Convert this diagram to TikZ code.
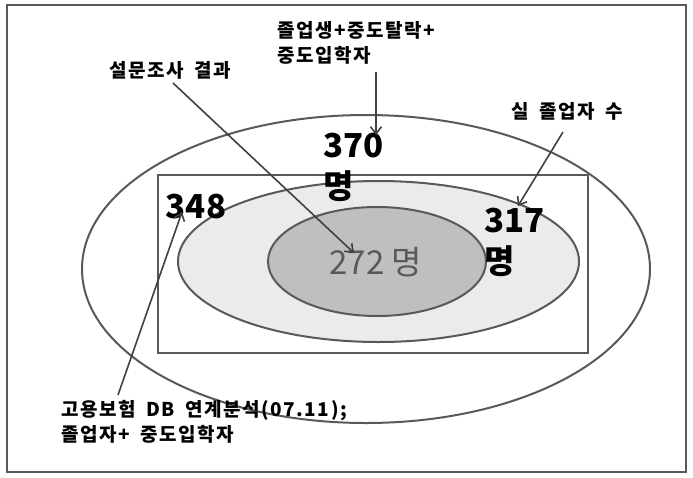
\documentclass[tikz,border=0pt]{standalone}
\usepackage{fontspec}
\newfontfamily\kr{Noto Sans CJK KR}
\newfontfamily\krw{Noto Sans CJK KR}[LetterSpace=8,WordSpace=1.8]
\usetikzlibrary{shapes.geometric,arrows.meta}
\definecolor{linegray}{HTML}{595959}
\definecolor{arrowgray}{HTML}{404040}
\definecolor{midfill}{HTML}{EBEBEB}
\definecolor{innerfill}{HTML}{BFBFBF}
\definecolor{numgray}{HTML}{595959}
\begin{document}
\begin{tikzpicture}[x=1pt,y=-1pt,
  lbl/.style={font=\krw\bfseries\fontsize{19}{25}\selectfont, inner sep=0pt, align=left, text=black},
  num/.style={font=\kr\bfseries\fontsize{33}{41}\selectfont, inner sep=0pt, align=left, text=black},
  ell/.style={ellipse, draw=linegray, line width=2pt, inner sep=0pt},
  arr/.style={draw=arrowgray, line width=1.6pt, -{Straight Barb[length=7pt,width=11pt,line width=1.6pt]}}
]
\useasboundingbox (0,0) rectangle (693,477);
\draw[draw=linegray, line width=2.2pt] (7,5) rectangle (686,472);

\node[ell, minimum width=568pt, minimum height=308pt] (outer) at (366,269) {};
\node[draw=linegray, line width=2.4pt, inner sep=0pt, minimum width=430pt, minimum height=178pt] (box) at (373,264) {};
\node[ell, fill=midfill, minimum width=401pt, minimum height=161pt] (mid) at (378.5,261.5) {};

\node[num, anchor=north west] (n370) at (323,133) {370\\명};
\node[ell, fill=innerfill, minimum width=218pt, minimum height=109pt] (inner) at (377,261.5) {};

\node[num] (n348) at (196,206.5) {348};
\node[num, anchor=north west] (n317) at (484,208) {317\\명};
\node[font=\kr\fontsize{33}{40}\selectfont, text=numgray, inner sep=0pt] (n272) at (376,262.5) {272 명};

\node[lbl, anchor=west] (ltop) at (277,42.5) {졸업생+중도탈락+\\중도입학자};
\node[lbl] (lsurvey) at (170,70) {설문조사 결과};
\node[lbl] (lreal) at (567,111) {실 졸업자 수};
\node[lbl, anchor=west] (lbottom) at (61,421.5) {고용보험 DB 연계분석(07.11);\\졸업자+ 중도입학자};

\coordinate (ctop) at (376,72);
\coordinate (ttop) at (376,135);
\coordinate (csurvey) at (173,83);
\coordinate (tsurvey) at (354,253);
\coordinate (creal) at (563,132);
\coordinate (treal) at (518,206);
\coordinate (cbottom) at (118,395);
\coordinate (tbottom) at (182,212);

\draw[arr] (ctop) -- (ttop);
\draw[arr] (csurvey) -- (tsurvey);
\draw[arr] (creal) -- (treal);
\draw[arr] (cbottom) -- (tbottom);
\end{tikzpicture}
\end{document}
